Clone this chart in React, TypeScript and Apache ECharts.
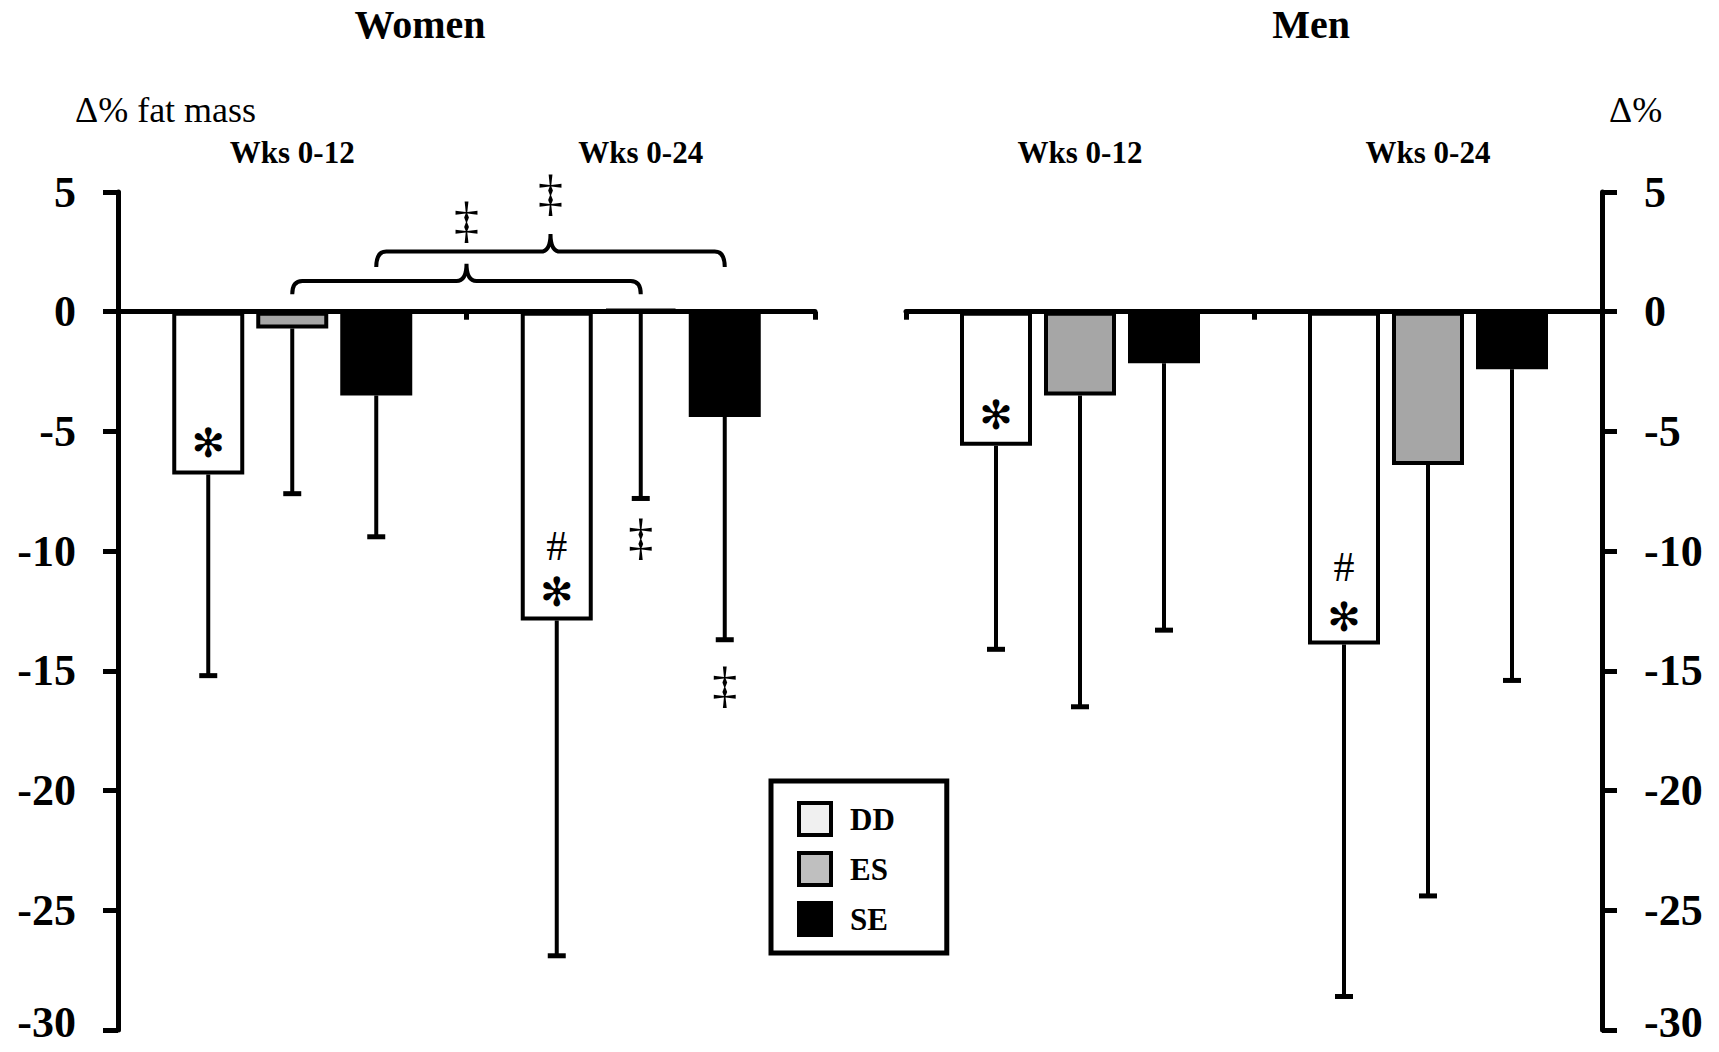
import React, { useEffect, useRef } from 'react';
import * as echarts from 'echarts';

const W = 1719;
const H = 1052;

// ---- data ----
const panels = ['Women', 'Men'];
const periods = ['Wks 0-12', 'Wks 0-24'];
const groups = ['DD', 'ES', 'SE'];
const yTicks = [-30, -25, -20, -15, -10, -5, 0, 5];

const womenDD = [-6.8, -12.9];
const womenES = [-0.7, 0.1];
const womenSE = [-3.5, -4.4];
const womenDDLow = [-15.2, -26.9];
const womenESLow = [-7.6, -7.8];
const womenSELow = [-9.4, -13.7];

const menDD = [-5.6, -13.9];
const menES = [-3.5, -6.4];
const menSE = [-2.15, -2.4];
const menDDLow = [-14.1, -28.6];
const menESLow = [-16.5, -24.4];
const menSELow = [-13.3, -15.4];

// annotations: [groupIndex, periodIndex, value, symbol]
const womenMarks: [number, number, number, string][] = [
  [0, 0, -5.5, '✻'],
  [0, 1, -9.8, '#'],
  [0, 1, -11.7, '✻'],
  [1, 1, -9.4, '‡'],
  [2, 1, -15.6, '‡'],
];
const menMarks: [number, number, number, string][] = [
  [0, 0, -4.3, '✻'],
  [0, 1, -10.65, '#'],
  [0, 1, -12.75, '✻'],
];

// braces linking Wks 0-12 and Wks 0-24 for a group (women)
const braceGroup = [1, 2];
const braceLevel = [1.28, 2.51];
const braceEnd = [0.73, 1.87];
const bracePeak = [2.0, 3.25];
const braceMark = [3.84, 4.94];

// ---- styles ----
const SERIF = '"Liberation Serif", "Times New Roman", serif';
const barFill = ['#ffffff', '#a6a6a6', '#000000'];
const legendFill = ['#f0f0f0', '#bfbfbf', '#000000'];
const BAR_W = 72;
const BAR_GAP = 12;
const CAP = 18;

function offsetOf(g: number) {
  return (g - 1) * (BAR_W + BAR_GAP);
}

function symbolFont(sym: string): any {
  if (sym === '✻') return { fontFamily: '"DejaVu Sans", sans-serif', fontSize: 40, fontWeight: 'bold' };
  if (sym === '‡') return { fontFamily: SERIF, fontSize: 50, fontWeight: 'normal' };
  return { fontFamily: SERIF, fontSize: 42, fontWeight: 'normal' };
}

function errorSeries(xIdx: number, yIdx: number, means: number[][], lows: number[][]) {
  const data: number[][] = [];
  for (let g = 0; g < 3; g++) {
    for (let p = 0; p < 2; p++) data.push([p, lows[g][p], means[g][p], g]);
  }
  return {
    type: 'custom',
    xAxisIndex: xIdx,
    yAxisIndex: yIdx,
    z: 5,
    silent: true,
    encode: { x: 0, y: 1 },
    data,
    renderItem: (params: any, api: any) => {
      const p = api.value(0);
      const low = api.value(1);
      const mean = api.value(2);
      const g = api.value(3);
      const top = api.coord([p, Math.min(mean, 0)]);
      const bot = api.coord([p, low]);
      const x = top[0] + offsetOf(g);
      return {
        type: 'group',
        children: [
          { type: 'line', shape: { x1: x, y1: top[1], x2: x, y2: bot[1] }, style: { stroke: '#000', lineWidth: 4 } },
          { type: 'line', shape: { x1: x - CAP / 2, y1: bot[1], x2: x + CAP / 2, y2: bot[1] }, style: { stroke: '#000', lineWidth: 5 } },
        ],
      };
    },
  };
}

function markSeries(xIdx: number, yIdx: number, marks: [number, number, number, string][]) {
  return {
    type: 'custom',
    xAxisIndex: xIdx,
    yAxisIndex: yIdx,
    z: 6,
    silent: true,
    encode: { x: 0, y: 1 },
    data: marks.map((m) => [m[1], m[2], m[0]]),
    renderItem: (params: any, api: any) => {
      const c = api.coord([api.value(0), api.value(1)]);
      const sym = marks[params.dataIndex][3];
      const x = c[0] + offsetOf(api.value(2));
      return {
        type: 'text',
        x,
        y: c[1],
        style: { text: sym, fill: '#000', align: 'center', verticalAlign: 'middle', ...symbolFont(sym) },
      };
    },
  };
}

function braceSeries() {
  return {
    type: 'custom',
    xAxisIndex: 0,
    yAxisIndex: 0,
    z: 6,
    silent: true,
    encode: { x: 0, y: 1 },
    data: braceGroup.map((g, i) => [0, braceLevel[i], g, braceEnd[i], bracePeak[i], braceMark[i]]),
    renderItem: (params: any, api: any) => {
      const g = api.value(2);
      const off = offsetOf(g);
      const a = api.coord([0, api.value(1)]);
      const b = api.coord([1, api.value(1)]);
      const yH = a[1];
      const yE = api.coord([0, api.value(3)])[1];
      const yP = api.coord([0, api.value(4)])[1];
      const yM = api.coord([0, api.value(5)])[1];
      const x1 = a[0] + off;
      const x2 = b[0] + off;
      const xc = (x1 + x2) / 2;
      const r = 10;
      const d =
        `M${x1},${yE} Q${x1},${yH} ${x1 + r},${yH} L${xc - r},${yH} Q${xc},${yH} ${xc},${yP} ` +
        `Q${xc},${yH} ${xc + r},${yH} L${x2 - r},${yH} Q${x2},${yH} ${x2},${yE}`;
      return {
        type: 'group',
        children: [
          { type: 'path', shape: { pathData: d }, style: { stroke: '#000', lineWidth: 4, fill: 'none' } },
          {
            type: 'text',
            x: xc,
            y: yM,
            style: { text: '‡', fill: '#000', align: 'center', verticalAlign: 'middle', ...symbolFont('‡') },
          },
        ],
      };
    },
  };
}

function barSeries(xIdx: number, yIdx: number, means: number[][]) {
  return groups.map((name, g) => ({
    name,
    type: 'bar',
    xAxisIndex: xIdx,
    yAxisIndex: yIdx,
    barWidth: BAR_W,
    barGap: `${(BAR_GAP / BAR_W) * 100}%`,
    z: 3,
    silent: true,
    itemStyle: { color: barFill[g], borderColor: '#000', borderWidth: 4 },
    data: means[g],
  }));
}

const bottomX = (grid: number) => ({
  gridIndex: grid,
  type: 'category',
  data: periods,
  position: 'bottom',
  boundaryGap: true,
  axisLine: { show: true, onZero: true, lineStyle: { color: '#000', width: 5 } },
  axisTick: { show: true, length: 8, lineStyle: { color: '#000', width: 5 } },
  axisLabel: { show: false },
  splitLine: { show: false },
});

const topX = (grid: number) => ({
  gridIndex: grid,
  type: 'category',
  data: periods,
  position: 'top',
  axisLine: { show: false, onZero: false },
  axisTick: { show: false },
  axisLabel: { show: true, margin: 24, color: '#000', fontFamily: SERIF, fontWeight: 'bold', fontSize: 31 },
  splitLine: { show: false },
});

const labelRich = {
  n: { fontFamily: SERIF, fontWeight: 'bold', fontSize: 44, color: '#000', lineHeight: 34 },
  low: { fontFamily: SERIF, fontWeight: 'bold', fontSize: 44, color: '#000', lineHeight: 34, padding: [0, 0, 16, 0] },
};

const yAxisOf = (grid: number, position: string) => ({
  gridIndex: grid,
  type: 'value',
  position,
  min: yTicks[0],
  max: yTicks[yTicks.length - 1],
  interval: yTicks[1] - yTicks[0],
  axisLine: { show: true, onZero: false, lineStyle: { color: '#000', width: 5 } },
  axisTick: { show: true, length: 15, lineStyle: { color: '#000', width: 5 } },
  axisLabel: {
    margin: 42,
    color: '#000',
    fontFamily: SERIF,
    fontWeight: 'bold',
    fontSize: 44,
    lineHeight: 34,
    formatter: (v: number) => (v === yTicks[0] ? `{low|${v}}` : `{n|${v}}`),
    rich: labelRich,
  },
  splitLine: { show: false },
});

const option: any = {
  animation: false,
  backgroundColor: '#ffffff',
  grid: [
    { left: 118, right: W - 815, top: 192, bottom: H - 1030, containLabel: false, outerBoundsMode: 'none' },
    { left: 906, right: W - 1602, top: 192, bottom: H - 1030, containLabel: false, outerBoundsMode: 'none' },
  ],
  xAxis: [bottomX(0), topX(0), bottomX(1), topX(1)],
  yAxis: [yAxisOf(0, 'left'), yAxisOf(1, 'right')],
  legend: {
    show: true,
    selectedMode: false,
    orient: 'vertical',
    left: 771,
    top: 781,
    padding: [20, 52, 16, 26],
    itemWidth: 32,
    itemHeight: 32,
    itemGap: 14,
    icon: 'rect',
    borderColor: '#000',
    borderWidth: 5,
    backgroundColor: '#fff',
    textStyle: { color: '#000', fontFamily: SERIF, fontWeight: 'bold', fontSize: 31, padding: [0, 0, 0, 14] },
    data: groups.map((name, g) => ({
      name,
      itemStyle: { color: legendFill[g], borderColor: '#000', borderWidth: 4 },
    })),
  },
  graphic: [
    { type: 'text', x: 420, y: 24, style: { text: panels[0], align: 'center', verticalAlign: 'middle', fill: '#000', fontFamily: SERIF, fontWeight: 'bold', fontSize: 40 } },
    { type: 'text', x: 1311, y: 24, style: { text: panels[1], align: 'center', verticalAlign: 'middle', fill: '#000', fontFamily: SERIF, fontWeight: 'bold', fontSize: 40 } },
    { type: 'text', x: 75, y: 110, style: { text: 'Δ% fat mass', align: 'left', verticalAlign: 'middle', fill: '#000', fontFamily: SERIF, fontSize: 36 } },
    { type: 'text', x: 1609, y: 110, style: { text: 'Δ%', align: 'left', verticalAlign: 'middle', fill: '#000', fontFamily: SERIF, fontSize: 36 } },
  ],
  series: [
    ...barSeries(0, 0, [womenDD, womenES, womenSE]),
    ...barSeries(2, 1, [menDD, menES, menSE]),
    errorSeries(0, 0, [womenDD, womenES, womenSE], [womenDDLow, womenESLow, womenSELow]),
    errorSeries(2, 1, [menDD, menES, menSE], [menDDLow, menESLow, menSELow]),
    markSeries(0, 0, womenMarks),
    markSeries(2, 1, menMarks),
    braceSeries(),
  ],
};

export default function App() {
  const ref = useRef<HTMLDivElement>(null);
  useEffect(() => {
    if (!ref.current) return;
    const chart = echarts.init(ref.current, null, { renderer: 'svg' });
    chart.setOption(option);
    return () => chart.dispose();
  }, []);
  return (
    <div
      ref={ref}
      style={{ position: 'fixed', left: 0, top: 0, width: W, height: H, background: '#fff' }}
    />
  );
}
